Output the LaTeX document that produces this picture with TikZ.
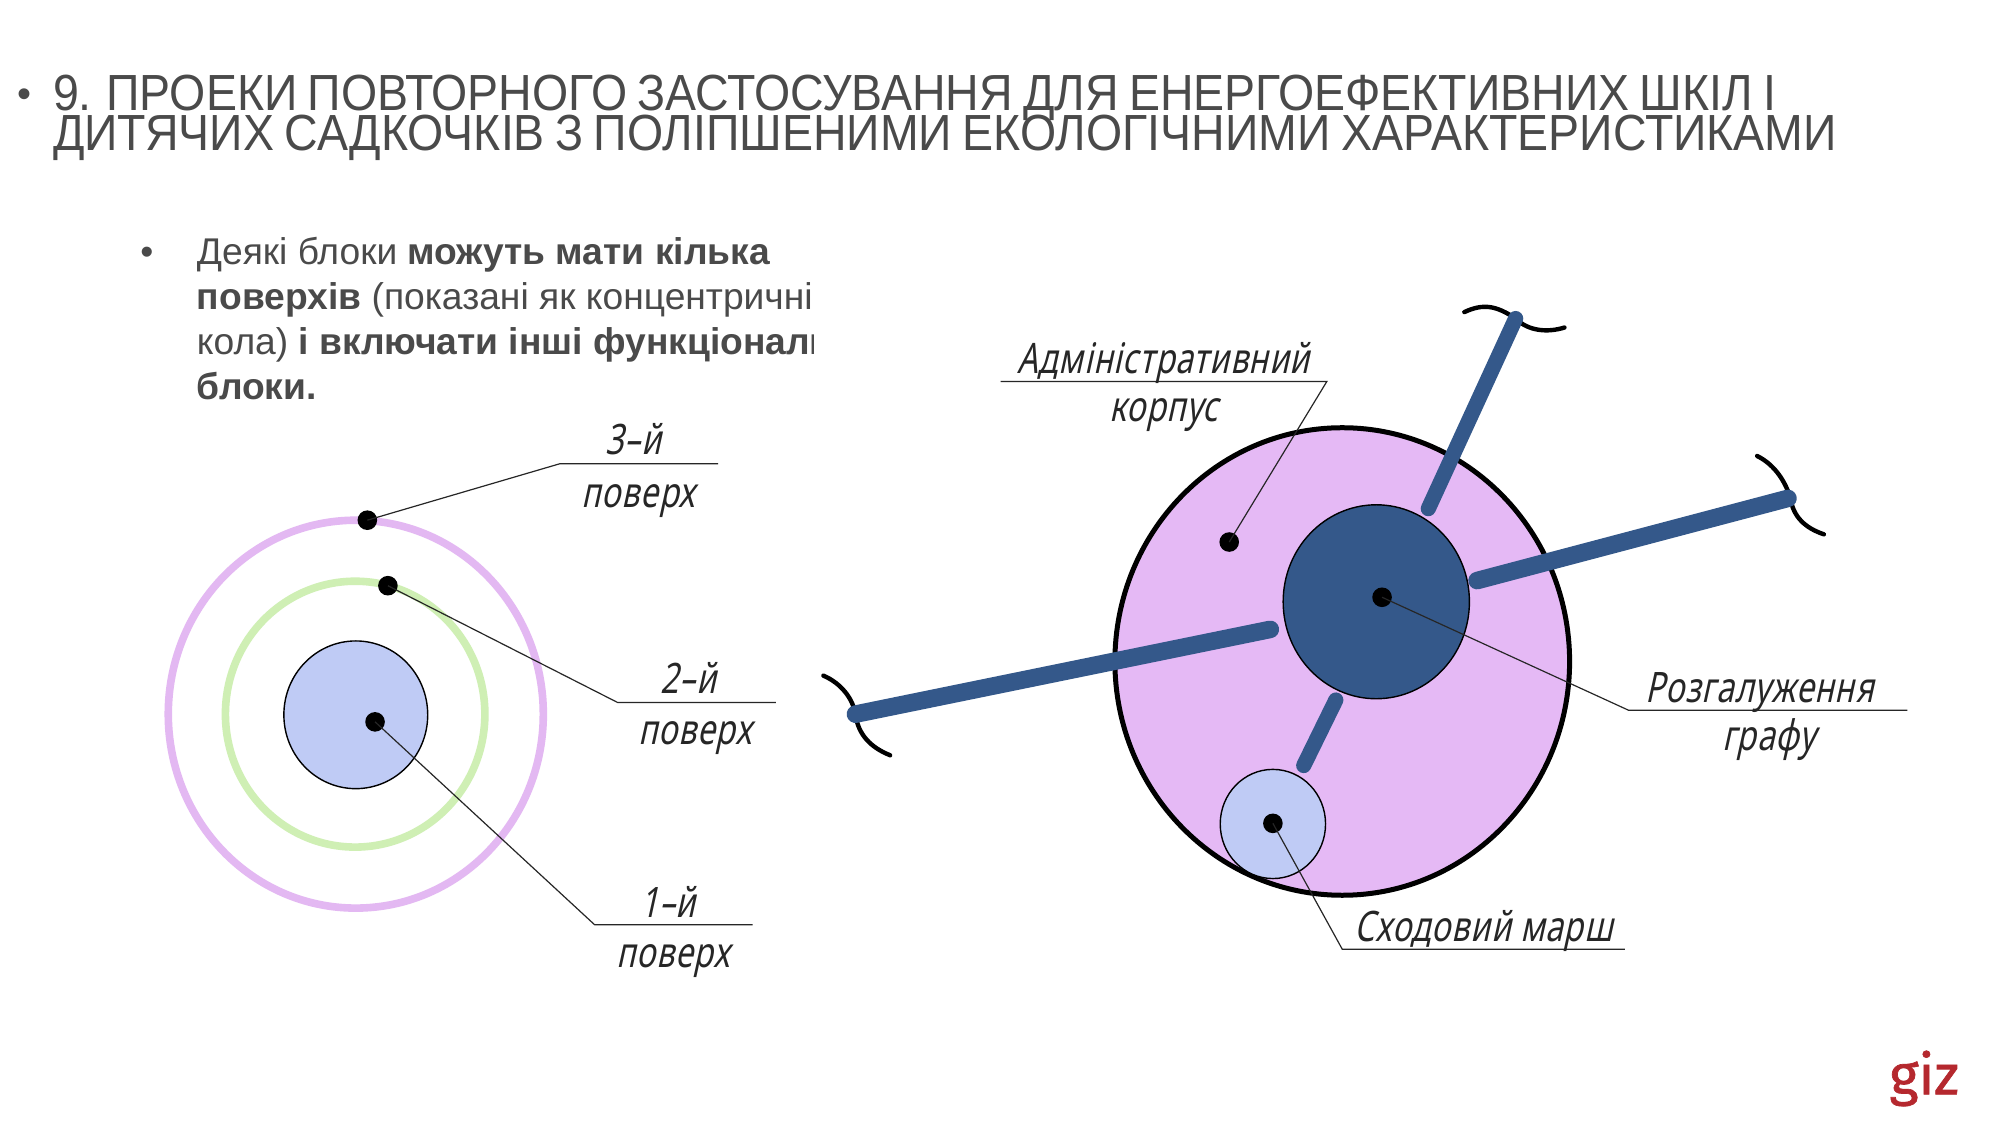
\documentclass[tikz,border=0pt]{standalone}
\usepackage{fontspec}
\setmainfont{Liberation Sans}
\newfontfamily\titlefont[FakeStretch=0.915,WordSpace=0.8]{Liberation Sans}
\newfontfamily\lblfont[FakeStretch=0.76,FakeSlant=0.22,LetterSpace=2]{Noto Sans}
\newfontfamily\gizfont[FakeBold=1.2]{Fira Sans}
\definecolor{txt}{HTML}{4A4A4A}
\definecolor{pinkring}{HTML}{E3B8F2}
\definecolor{pinkfill}{HTML}{E5B9F5}
\definecolor{greenring}{HTML}{CFEFB4}
\definecolor{bluefill}{HTML}{BFCBF5}
\definecolor{navy}{HTML}{34588A}
\definecolor{gizred}{HTML}{B5282E}
\tikzset{
 x=0.6422pt,y=-0.6422pt,
 dotnode/.style={circle,fill=black,inner sep=0pt,minimum size=9.8pt},
 leader/.style={draw=black!85,line width=0.6pt},
 bar/.style={draw=navy,line width=7.6pt,line cap=round},
 widebar/.style={draw=navy,line width=8.8pt,line cap=round},
 endcurve/.style={draw=black,line width=2.2pt,line cap=round},
 lbl/.style={anchor=base,font=\lblfont\fontsize{21}{24}\selectfont,text=black!85,inner sep=0pt},
 titletext/.style={anchor=base west,inner sep=0pt,text=txt,font=\titlefont\fontsize{25.4}{25}\selectfont},
 bodytext/.style={anchor=base west,inner sep=0pt,text=txt,font=\fontsize{18.6}{20}\selectfont},
}
\begin{document}
\begin{tikzpicture}
\useasboundingbox (0,0) rectangle (1568,882);
\fill[white] (0,0) rectangle (1568,882);
% title
\node[anchor=base west,inner sep=0pt,text=txt,font=\fontsize{20}{20}\selectfont] (bt) at (13,84) {•};
\node[titletext] (t1) at (41,86) {9. ПРОЕКИ ПОВТОРНОГО ЗАСТОСУВАННЯ ДЛЯ ЕНЕРГОЕФЕКТИВНИХ ШКІЛ І};
\node[titletext] (t2) at (41,117.5) {ДИТЯЧИХ САДКОЧКІВ З ПОЛІПШЕНИМИ ЕКОЛОГІЧНИМИ ХАРАКТЕРИСТИКАМИ};
% body text
\node[bodytext] (bb) at (109,206) {•};
\begin{scope}
\clip (140,170) rectangle (633,330);
\node[bodytext] (b1) at (153,206) {Деякі блоки \textbf{можуть мати кілька}};
\node[bodytext] (b2) at (153,241) {\textbf{поверхів} (показані як концентричні};
\node[bodytext] (b3) at (153,276) {кола) \textbf{і включати інші функціональні}};
\node[bodytext] (b4) at (153,311) {\textbf{блоки.}};
\end{scope}
% left figure
\draw[pinkring,line width=3.8pt] (277,556) ellipse [x radius=146,y radius=151];
\draw[greenring,line width=3.8pt] (276.5,556) ellipse [x radius=101,y radius=103.5];
\draw[black,fill=bluefill,line width=0.7pt] (277,556.5) ellipse [x radius=56,y radius=57.5];
\coordinate (k3) at (436,361); \coordinate (e3) at (559,361);
\coordinate (k2) at (481,547); \coordinate (e2) at (604,547);
\coordinate (k1) at (463,720); \coordinate (e1) at (586,720);
\node[dotnode] (d3) at (286,405) {};
\node[dotnode] (d2) at (302,456) {};
\node[dotnode] (d1) at (292,562) {};
\draw[leader] (d3.center) -- (k3) -- (e3);
\draw[leader] (d2.center) -- (k2) -- (e2);
\draw[leader] (d1.center) -- (k1) -- (e1);
\node[lbl] (l3a) at (493,354) {3–й};
\node[lbl] (l3b) at (497,395) {поверх};
\node[lbl] (l2a) at (536,540) {2–й};
\node[lbl] (l2b) at (541,580) {поверх};
\node[lbl] (l1a) at (520,714) {1–й};
\node[lbl] (l1b) at (524,753) {поверх};
% right figure
\draw[black,fill=pinkfill,line width=2.5pt] (1045,515) ellipse [x radius=177,y radius=182];
\draw[black,fill=navy,line width=0.7pt] (1071.5,468.5) ellipse [x radius=72.5,y radius=75.5];
\draw[black,fill=bluefill,line width=0.7pt] (991,641.5) ellipse [x radius=41,y radius=42.5];
\coordinate (ct1) at (1140,243); \coordinate (ct2) at (1180,248); \coordinate (ct3) at (1218,255);
\coordinate (cr1) at (1368,355); \coordinate (cr2) at (1394,388); \coordinate (cr3) at (1420,416);
\coordinate (cl1) at (641,526); \coordinate (cl2) at (666,556); \coordinate (cl3) at (693,588);
\draw[endcurve] (ct1) .. controls (1155,236) and (1165,238) .. (ct2) .. controls (1190,258) and (1205,259) .. (ct3);
\draw[endcurve] (cr1) .. controls (1382,362) and (1390,375) .. (cr2) .. controls (1396,402) and (1405,411) .. (cr3);
\draw[endcurve] (cl1) .. controls (655,532) and (664,544) .. (cl2) .. controls (668,572) and (678,582) .. (cl3);
\coordinate (bt1) at (1180,248); \coordinate (bt2) at (1112,396);
\coordinate (br1) at (1150,452); \coordinate (br2) at (1392,388);
\coordinate (bl1) at (666,556); \coordinate (bl2) at (989,490);
\coordinate (bs1) at (1040,545); \coordinate (bs2) at (1015,596);
\draw[bar] (bt1) -- (bt2);
\draw[widebar] (br1) -- (br2);
\draw[widebar] (bl1) -- (bl2);
\draw[bar] (bs1) -- (bs2);
\coordinate (ka) at (1033,297); \coordinate (ea) at (779,297);
\coordinate (kr) at (1268,553); \coordinate (er) at (1485,553);
\coordinate (ks) at (1045,739); \coordinate (es) at (1265,739);
\node[dotnode] (da) at (957,422) {};
\node[dotnode] (dr) at (1076,465) {};
\node[dotnode] (ds) at (991,641) {};
\draw[leader] (da.center) -- (ka) -- (ea);
\draw[leader] (dr.center) -- (kr) -- (er);
\draw[leader] (ds.center) -- (ks) -- (es);
\node[lbl] (la1) at (906,291) {Адміністративний};
\node[lbl] (la2) at (906,328) {корпус};
\node[lbl] (lr1) at (1370,547) {Розгалуження};
\node[lbl] (lr2) at (1377,584) {графу};
\node[lbl] (ls) at (1155,733) {Сходовий марш};
% logo
\node[anchor=base,inner sep=0pt,text=gizred,font=\gizfont\fontsize{28}{30}\selectfont] (giz) at (1498,852) {giz};
\end{tikzpicture}
\end{document}
